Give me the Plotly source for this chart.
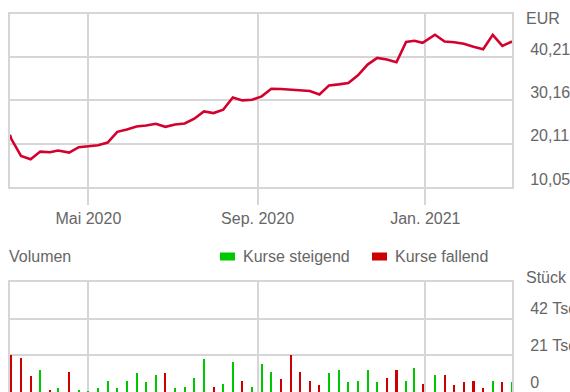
import plotly.graph_objects as go

# Weekly closing prices (EUR) and weekly traded volume (pieces)
dates = [
    "2020-03-05", "2020-03-06", "2020-03-13", "2020-03-20", "2020-03-27",
    "2020-04-03", "2020-04-09", "2020-04-17", "2020-04-24", "2020-05-01",
    "2020-05-08", "2020-05-15", "2020-05-22", "2020-05-29", "2020-06-05",
    "2020-06-12", "2020-06-19", "2020-06-26", "2020-07-03", "2020-07-10",
    "2020-07-17", "2020-07-24", "2020-07-31", "2020-08-07", "2020-08-14",
    "2020-08-21", "2020-08-28", "2020-09-04", "2020-09-11", "2020-09-18",
    "2020-09-25", "2020-10-02", "2020-10-09", "2020-10-16", "2020-10-23",
    "2020-10-30", "2020-11-06", "2020-11-13", "2020-11-20", "2020-11-27",
    "2020-12-04", "2020-12-11", "2020-12-18", "2020-12-24", "2020-12-30",
    "2021-01-08", "2021-01-15", "2021-01-22", "2021-01-29", "2021-02-05",
    "2021-02-12", "2021-02-19", "2021-02-26", "2021-03-05",
]

prices = [
    22.18, 21.20, 17.28, 16.51, 18.28,
    18.14, 18.52, 18.05, 19.31, 19.61,
    19.77, 20.38, 22.88, 23.41, 24.11,
    24.35, 24.74, 24.04, 24.58, 24.81,
    25.91, 27.61, 27.24, 28.01, 30.87,
    30.18, 30.34, 31.11, 32.90, 32.83,
    32.67, 32.60, 32.37, 31.57, 33.67,
    33.91, 34.23, 36.01, 38.50, 40.06,
    39.67, 39.04, 43.79, 44.03, 43.56,
    45.43, 43.86, 43.70, 43.33, 42.63,
    42.07, 45.43, 42.86, 43.86,
]

volumes = [
    4600, 21300, 19500, 9200, 12650,
    1150, 2300, 11500, 1150, 500,
    2300, 6300, 2300, 6300, 10900,
    5750, 9800, 10900, 2300, 2900,
    8000, 19000, 2900, 4600, 17250,
    6300, 2900, 16100, 11500, 7500,
    21300, 11500, 6300, 4000, 10900,
    12650, 5750, 6300, 12650, 5750,
    8000, 12650, 6300, 13800, 4600,
    9800, 9800, 4000, 5750, 6300,
    2300, 6300, 5750, 5750,
]

price_ticks = [10.05, 20.11, 30.16, 40.21]
price_tick_labels = ["10,05", "20,11", "30,16", "40,21"]
volume_ticks = [0, 21000, 42000]
volume_tick_labels = ["0", "21 Tsd", "42 Tsd"]
month_ticks = ["2020-05-01", "2020-09-01", "2021-01-01"]
month_tick_labels = ["Mai 2020", "Sep. 2020", "Jan. 2021"]

W, H = 570, 392
GRID = "#d6d6d6"
TEXT = "#666666"
UP = "#00c800"
DOWN = "#cc0000"
FLAT = "#666666"
FONT = "Liberation Sans, Arial, sans-serif"

# bar colour follows the week's price move
bar_colors = [FLAT]
for prev, cur in zip(prices[:-1], prices[1:]):
    bar_colors.append(UP if cur >= prev else DOWN)

x_dom = [10 / W, 512 / W]


def py(px):
    """pixel row (from top) -> paper y"""
    return (H - px) / H


fig = go.Figure()

fig.add_trace(go.Scatter(
    x=dates, y=prices, mode="lines",
    line=dict(color="#d4002d", width=2.6),
    xaxis="x", yaxis="y", showlegend=False, hoverinfo="skip",
))

fig.add_trace(go.Bar(
    x=dates, y=volumes, marker=dict(color=bar_colors, line=dict(width=0)),
    width=1.5 * 86400000,
    xaxis="x2", yaxis="y2", showlegend=False, hoverinfo="skip",
))

axis_common = dict(
    showline=True, mirror=True, linecolor=GRID, linewidth=2,
    showgrid=True, gridcolor=GRID, gridwidth=1.5, zeroline=False,
    automargin=False,
    tickfont=dict(family=FONT, size=16, color=TEXT),
)

fig.update_layout(
    width=W, height=H,
    margin=dict(l=0, r=0, t=0, b=0),
    paper_bgcolor="white", plot_bgcolor="white",
    font=dict(family=FONT, size=16, color=TEXT),
    bargap=0,
    xaxis=dict(
        domain=x_dom, type="date", range=["2020-03-05", "2021-03-05"],
        tickvals=month_ticks, ticktext=month_tick_labels,
        ticks="outside", ticklen=16, tickcolor=GRID, tickwidth=1.5,
        anchor="y", **axis_common,
    ),
    yaxis=dict(
        domain=[py(187), py(14)], range=[10.05, 50.26],
        tickvals=price_ticks, ticktext=price_tick_labels,
        side="right", ticks="", ticklabelshift=-8, ticklabelstandoff=13,
        anchor="x", **axis_common,
    ),
    xaxis2=dict(
        domain=x_dom, type="date", range=["2020-03-05", "2021-03-05"],
        tickvals=month_ticks, showticklabels=False, ticks="",
        anchor="y2", **axis_common,
    ),
    yaxis2=dict(
        domain=[0, py(282)], range=[0, 63000],
        tickvals=volume_ticks, ticktext=volume_tick_labels,
        side="right", ticks="", ticklabelshift=-10, ticklabelstandoff=13,
        anchor="x2", **axis_common,
    ),
)

annotations = [
    dict(text="EUR", x=524 / W, y=py(19), xanchor="left", yanchor="middle"),
    dict(text="Stück", x=524 / W, y=py(277), xanchor="left", yanchor="middle"),
    dict(text="Volumen", x=7 / W, y=py(256), xanchor="left", yanchor="middle"),
    dict(text="Kurse steigend", x=241 / W, y=py(256), xanchor="left", yanchor="middle"),
    dict(text="Kurse fallend", x=393 / W, y=py(256), xanchor="left", yanchor="middle"),
]
for a in annotations:
    a.update(xref="paper", yref="paper", showarrow=False,
             font=dict(family=FONT, size=16, color=TEXT))
fig.update_layout(annotations=annotations)

# legend swatches
for x0, x1, col in [(220, 235, UP), (372, 387, DOWN)]:
    fig.add_shape(type="rect", xref="paper", yref="paper",
                  x0=x0 / W, x1=x1 / W, y0=py(260.5), y1=py(252.5),
                  fillcolor=col, line=dict(width=0))

fig.write_html("out.html")
